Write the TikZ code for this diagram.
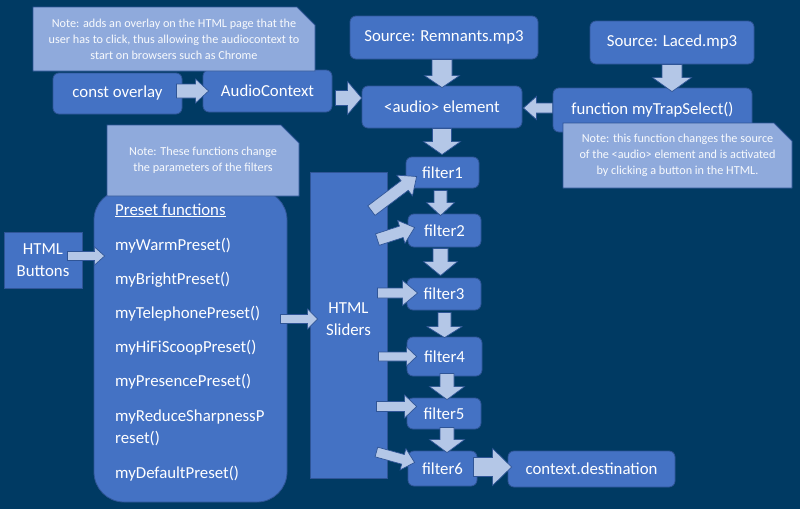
\documentclass[tikz,border=0pt]{standalone}
\usepackage{fontspec}
\setmainfont{Carlito}
\usetikzlibrary{calc,shapes.misc}
\definecolor{bgc}{HTML}{003A63}
\definecolor{boxc}{HTML}{4472C4}
\definecolor{edgec}{HTML}{2F5597}
\definecolor{arrc}{HTML}{B4C7E7}
\definecolor{notec}{HTML}{8FAADC}
\newcommand\mainfs{\fontsize{16.8}{22}\selectfont}
\newcommand\notefs{\fontsize{12.2}{16}\selectfont}
% block arrow: start, end, shaft half width, head half width, head length
\newcommand\blockarr[5]{%
  \coordinate (ba-s) at #1;
  \coordinate (ba-e) at #2;
  \coordinate (ba-h) at ($(ba-e)!#5!(ba-s)$);
  \draw[blockarrow] ($(ba-s)!#3!90:(ba-e)$) -- ($(ba-h)!#3!90:(ba-e)$) -- ($(ba-h)!#4!90:(ba-e)$)
    -- (ba-e) -- ($(ba-h)!#4!-90:(ba-e)$) -- ($(ba-h)!#3!-90:(ba-e)$) -- ($(ba-s)!#3!-90:(ba-e)$) -- cycle;
}
\begin{document}
\begin{tikzpicture}[x=1pt,y=-1pt,
  box/.style={rectangle, rounded corners=6pt, fill=boxc, draw=edgec, line width=0.8pt, text=white, font=\mainfs, inner sep=0pt},
  sqbox/.style={box, sharp corners},
  note/.style={chamfered rectangle, chamfered rectangle corners=north east, chamfered rectangle xsep=9pt, chamfered rectangle ysep=9pt, fill=notec, draw=edgec, line width=0.8pt, text=white!94!notec, font=\notefs, align=center, inner sep=0pt},
  blockarrow/.style={fill=arrc, draw=edgec, line width=0.7pt, line join=miter},
  txt/.style={text=white, font=\mainfs, inner sep=0pt}]
\fill[bgc] (0,0) rectangle (800,509);
\useasboundingbox (0,0) rectangle (800,509);

% boxes
\node[box, minimum width=129pt, minimum height=41pt] (cover) at (117.5,93.5) {const overlay};
\node[box, minimum width=129pt, minimum height=42pt] (actx) at (267.5,91) {AudioContext};
\node[box, minimum width=188pt, minimum height=43pt] (remn) at (444,37.5) {Source: Remnants.mp3};
\node[box, minimum width=160pt, minimum height=42pt] (audio) at (442,107) {<audio> element};
\node[box, minimum width=164pt, minimum height=43pt] (laced) at (672,42.5) {Source: Laced.mp3};
\node[box, minimum width=199pt, minimum height=44pt] (trap) at (652.5,110) {function myTrapSelect()};
\node[box, minimum width=73pt, minimum height=31pt] (f1) at (442.5,172.5) {filter1};
\node[box, minimum width=73pt, minimum height=33pt] (f2) at (444.5,230.5) {filter2};
\node[box, minimum width=74pt, minimum height=32pt] (f3) at (444,294) {filter3};
\node[box, minimum width=75pt, minimum height=39pt] (f4) at (444.5,356.5) {filter4};
\node[box, minimum width=74pt, minimum height=31pt] (f5) at (444,413.5) {filter5};
\node[box, minimum width=69pt, minimum height=35pt] (f6) at (442.5,468.5) {filter6};
\node[box, minimum width=167pt, minimum height=36pt] (dest) at (591.5,469) {context.destination};
\node[sqbox, minimum width=77pt, minimum height=306pt] (sliders) at (348.5,325) {};
\node[txt, align=center] (slidertxt) at (348.5,319) {HTML\\Sliders};
\node[box, rounded corners=30pt, minimum width=193pt, minimum height=312pt] (preset) at (190.5,346) {};
\node[sqbox, minimum width=78pt, minimum height=56pt, align=center] (buttons) at (43,260) {HTML\\Buttons};

% preset list
\node[txt, anchor=base west] (p0) at (115,215) {\underline{Preset functions}};
\node[txt, anchor=base west] (p1) at (115,250.5) {myWarmPreset()};
\node[txt, anchor=base west] (p2) at (115,284.5) {myBrightPreset()};
\node[txt, anchor=base west] (p3) at (115,318.5) {myTelephonePreset()};
\node[txt, anchor=base west] (p4) at (115,352.5) {myHiFiScoopPreset()};
\node[txt, anchor=base west] (p5) at (115,386.5) {myPresencePreset()};
\node[txt, anchor=base west] (p6) at (115,421.5) {myReduceSharpnessP};
\node[txt, anchor=base west] (p7) at (115,443) {reset()};
\node[txt, anchor=base west] (p8) at (115,478) {myDefaultPreset()};

% arrows
\blockarr{($(cover.east |- actx.west)+(-6,0)$)}{($(actx.west)+(6,0)$)}{7pt}{12pt}{13pt}
\blockarr{($(actx.east)+(3,7)$)}{($(audio.west)+(0,-9)$)}{7.5pt}{16.5pt}{14pt}
\blockarr{(audio.north |- remn.south)}{($(audio.north)+(0,2)$)}{10pt}{17.5pt}{12pt}
\blockarr{(laced.south)}{($(laced.south |- trap.north)+(0,4)$)}{10pt}{19.5pt}{14pt}
\blockarr{($(trap.west)+(0,-2)$)}{($(audio.east)+(1,1)$)}{5pt}{11.5pt}{13pt}
\blockarr{(audio.south)}{($(f1.north)+(-0.5,-2)$)}{9.5pt}{18.5pt}{13pt}
\blockarr{($(f1.south)+(-2,2)$)}{($(f1.south |- f2.north)+(-2,2)$)}{6.5pt}{14pt}{13pt}
\blockarr{($(f2.south)+(-4,1)$)}{($(f2.south |- f3.north)+(-4,-2)$)}{7.5pt}{17pt}{14pt}
\blockarr{($(f3.south)+(0.5,2)$)}{($(f3.south |- f4.north)+(0.5,1)$)}{6.5pt}{17.5pt}{11pt}
\blockarr{($(f4.south)+(2.5,-3)$)}{($(f4.south |- f5.north)+(2.5,2)$)}{7pt}{17.5pt}{13pt}
\blockarr{($(f5.south)+(3,-2)$)}{($(f5.south |- f6.north)+(3,2)$)}{7pt}{17.5pt}{13pt}
\blockarr{($(f6.east)+(-4,-1.5)$)}{($(dest.west)+(4,-2)$)}{9.5pt}{18.5pt}{19pt}
\blockarr{($(sliders.north east)+(-16,39)$)}{($(f1.west)+(11,4)$)}{6pt}{13pt}{15pt}
\blockarr{($(sliders.north east)+(-10,68)$)}{($(f2.west)+(7,-3)$)}{6pt}{12pt}{14pt}
\blockarr{($(sliders.east |- f3.west)+(-10,-1)$)}{($(f3.west)+(11,-1)$)}{5pt}{12.5pt}{15pt}
\blockarr{($(sliders.east |- f4.west)+(-9,0)$)}{($(f4.west)+(10,0)$)}{4.5pt}{9.5pt}{10pt}
\blockarr{($(sliders.east |- f5.west)+(-11,-7)$)}{($(f5.west)+(10,-7)$)}{5pt}{11.5pt}{12pt}
\blockarr{($(sliders.east |- f6.west)+(-11,-16.5)$)}{($(f6.west)+(7,-6)$)}{5pt}{11pt}{12pt}
\blockarr{($(buttons.east)+(-15,-4)$)}{($(preset.west |- buttons.east)+(11,-4)$)}{4.5pt}{9pt}{10pt}
\blockarr{($(preset.east)+(-7,-27)$)}{($(sliders.west)+(8,-6)$)}{4.5pt}{10pt}{10pt}

% notes
\node[note, minimum width=282pt, minimum height=64pt] (note1) at (174,39) {Note: adds an overlay on the HTML page that the\\user has to click, thus allowing the audiocontext to\\start on browsers such as Chrome};
\node[note, minimum width=229pt, minimum height=65pt] (note2) at (677.5,155.5) {Note: this function changes the source\\of the <audio> element and is activated\\by clicking a button in the HTML.};
\node[note, minimum width=192pt, minimum height=71pt] (note3) at (203,160.5) {Note: These functions change\\the parameters of the filters};
\end{tikzpicture}
\end{document}
